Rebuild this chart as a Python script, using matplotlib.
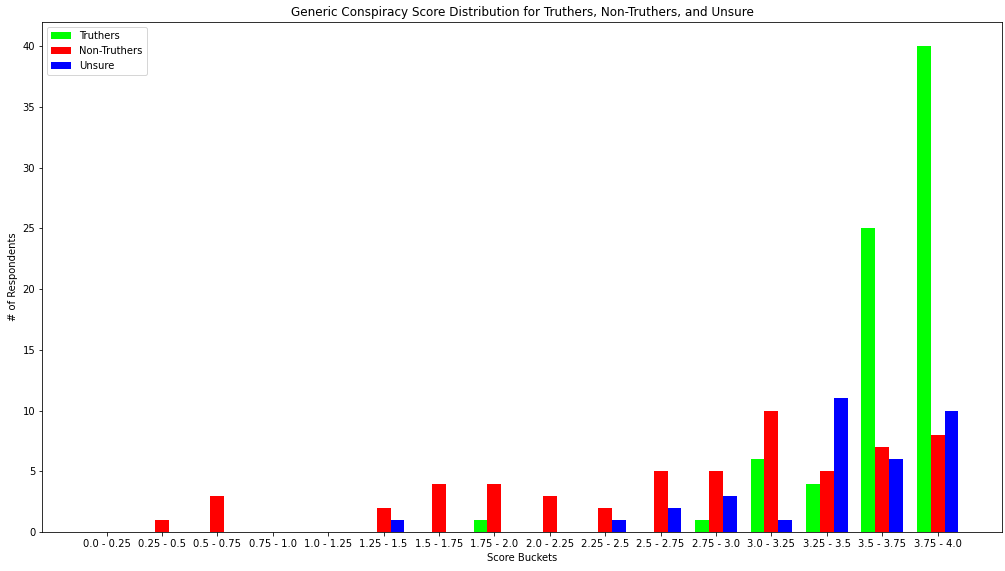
import numpy as np
import matplotlib
matplotlib.use("Agg")
import matplotlib.pyplot as plt

buckets = ["0.0 - 0.25", "0.25 - 0.5", "0.5 - 0.75", "0.75 - 1.0", "1.0 - 1.25",
           "1.25 - 1.5", "1.5 - 1.75", "1.75 - 2.0", "2.0 - 2.25", "2.25 - 2.5",
           "2.5 - 2.75", "2.75 - 3.0", "3.0 - 3.25", "3.25 - 3.5", "3.5 - 3.75",
           "3.75 - 4.0"]
truthers = [0, 0, 0, 0, 0, 0, 0, 1, 0, 0, 0, 1, 6, 4, 25, 40]
non_truthers = [0, 1, 3, 0, 0, 2, 4, 4, 3, 2, 5, 5, 10, 5, 7, 8]
unsure = [0, 0, 0, 0, 0, 1, 0, 0, 0, 1, 2, 3, 1, 11, 6, 10]

x = np.arange(len(buckets))
width = 0.25

fig, ax = plt.subplots(figsize=(1005 / 72, 571 / 72), dpi=72)
ax.bar(x - width, truthers, width, color="lime", label="Truthers")
ax.bar(x, non_truthers, width, color="red", label="Non-Truthers")
ax.bar(x + width, unsure, width, color="blue", label="Unsure")

ax.set_xticks(x)
ax.set_xticklabels(buckets)
ax.set_xlabel("Score Buckets")
ax.set_ylabel("# of Respondents")
ax.set_title("Generic Conspiracy Score Distribution for Truthers, Non-Truthers, and Unsure")
ax.legend(loc="upper left")

plt.subplots_adjust(left=0.042, right=0.997, bottom=0.068, top=0.962)
plt.savefig("out.png")
